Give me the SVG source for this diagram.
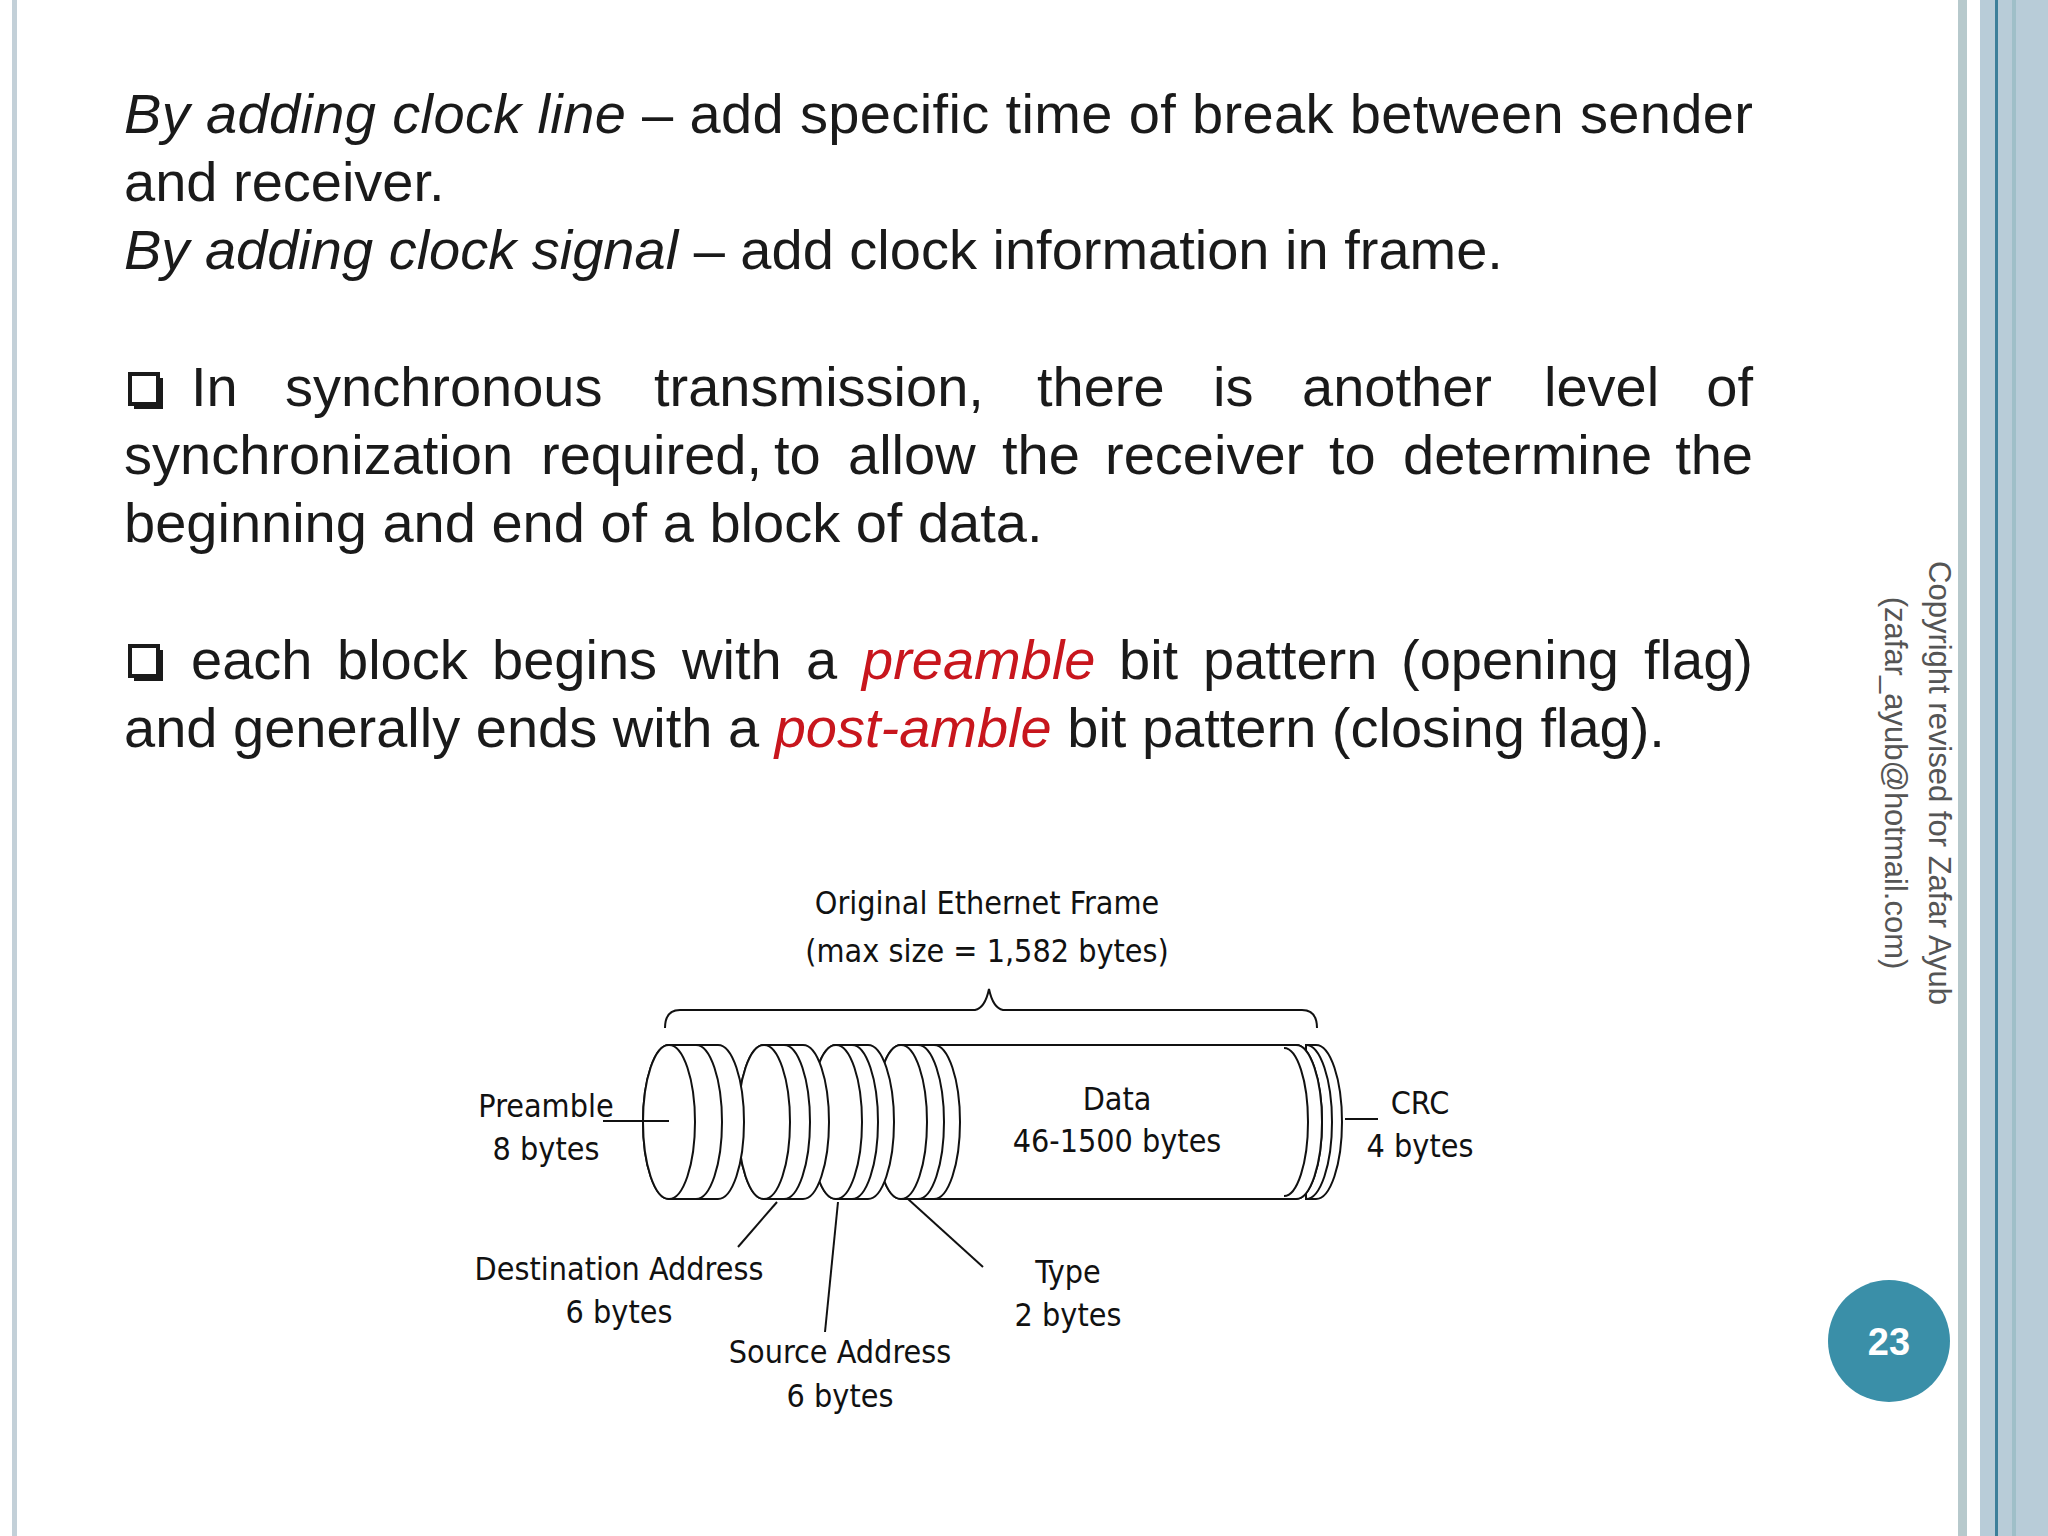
<svg xmlns="http://www.w3.org/2000/svg" width="2048" height="1536" viewBox="0 0 2048 1536">
<style>
.t{font-family:"Liberation Sans",Arial,sans-serif;font-size:56px;fill:#1a1a1a}
.e{text-anchor:end}
.i{font-style:italic}
.r{fill:#c8161d;font-style:italic}
.d{font-family:"DejaVu Sans Condensed","DejaVu Sans",sans-serif;font-size:32px;fill:#111;text-anchor:middle}
.cy{fill:#fff;stroke:#111;stroke-width:2}
.ln{fill:none;stroke:#111;stroke-width:2}
.cp{font-family:"Liberation Sans",Arial,sans-serif;font-size:31px;fill:#555;text-anchor:middle}
.bx{fill:none;stroke:#1a1a1a;stroke-width:4}
</style>
<rect width="2048" height="1536" fill="#fff"/>
<rect x="12" y="0" width="5" height="1536" fill="#c3d0d8"/>
<rect x="1958" y="0" width="9" height="1536" fill="#b7c9cc"/>
<rect x="1980" y="0" width="68" height="1536" fill="#b8ccd8"/>
<rect x="1995" y="0" width="3" height="1536" fill="#3d7f9a"/>
<rect x="2012" y="0" width="4" height="1536" fill="#9fbfc8"/>

<g id="text">
<text class="t" x="124" y="133" textLength="1629" lengthAdjust="spacing"><tspan class="i">By adding clock line</tspan> – add specific time of break between sender</text>
<text class="t" x="124" y="201">and receiver.</text>
<text class="t" x="124" y="269"><tspan class="i">By adding clock signal</tspan> – add clock information in frame.</text>
<rect class="bx" x="130" y="374" width="28" height="30"/>
<path class="bx" d="M161 378 V407 H134"/>
<text class="t" y="406"><tspan x="191">In</tspan><tspan x="285">synchronous</tspan><tspan x="654">transmission,</tspan><tspan x="1037">there</tspan><tspan x="1213">is</tspan><tspan x="1302">another</tspan><tspan x="1544">level</tspan></text>
<text class="t e" x="1753" y="406">of</text>
<text class="t" y="474"><tspan x="124">synchronization</tspan><tspan x="541">required,</tspan><tspan x="774">to</tspan><tspan x="848">allow</tspan><tspan x="1002">the</tspan><tspan x="1105">receiver</tspan><tspan x="1329">to</tspan><tspan x="1403">determine</tspan></text>
<text class="t e" x="1753" y="474">the</text>
<text class="t" x="124" y="542">beginning and end of a block of data.</text>
<rect class="bx" x="130" y="646" width="28" height="30"/>
<path class="bx" d="M161 650 V679 H134"/>
<text class="t" y="679"><tspan x="191">each</tspan><tspan x="337">block</tspan><tspan x="492">begins</tspan><tspan x="682">with</tspan><tspan x="806">a</tspan><tspan x="862" class="r">preamble</tspan><tspan x="1119">bit</tspan><tspan x="1203">pattern</tspan><tspan x="1401">(opening</tspan></text>
<text class="t e" x="1753" y="679">flag)</text>
<text class="t" x="124" y="747">and generally ends with a <tspan class="r">post-amble</tspan> bit pattern (closing flag).</text>
</g>

<g id="copyright">
<text class="cp" transform="translate(1929,783) rotate(90)">Copyright revised for Zafar Ayub</text>
<text class="cp" transform="translate(1885,783) rotate(90)">(zafar_ayub@hotmail.com)</text>
</g>

<g id="page">
<circle cx="1889" cy="1341" r="61" fill="#3a8fa8"/>
<text x="1889" y="1355" font-family="Liberation Sans,Arial,sans-serif" font-size="38" font-weight="bold" fill="#fff" text-anchor="middle">23</text>
</g>

<g id="frame">
<text class="d" x="987" y="914" font-size="37">Original Ethernet Frame</text>
<text class="d" x="987" y="962" font-size="37">(max size = 1,582 bytes)</text>
<path class="ln" d="M665 1028 Q665 1010 680 1010 H975 Q985 1008 989 989 Q993 1008 1003 1010 H1302 Q1317 1010 1317 1028"/>
<path class="cy" d="M1306 1045 H1316 A26 77 0 0 1 1316 1199 H1306 Z"/>
<path class="ln" d="M1306 1045 A26 77 0 0 1 1306 1199"/>
<path class="ln" d="M1296 1045 A26 77 0 0 1 1296 1199"/>
<path class="cy" d="M934 1045 H1296 A26 77 0 0 1 1296 1199 H934 A26 77 0 0 1 934 1045 Z"/>
<path class="ln" d="M1284 1048 A24 74 0 0 1 1284 1196"/>
<path class="cy" d="M901 1045 H934 A26 77 0 0 1 934 1199 H901 A26 77 0 0 1 901 1045 Z"/>
<path class="ln" d="M918 1045 A26 77 0 0 1 918 1199"/>
<ellipse class="cy" cx="901" cy="1122" rx="26" ry="77"/>
<path class="cy" d="M836 1045 H868 A26 77 0 0 1 868 1199 H836 A26 77 0 0 1 836 1045 Z"/>
<path class="ln" d="M852 1045 A26 77 0 0 1 852 1199"/>
<ellipse class="cy" cx="836" cy="1122" rx="26" ry="77"/>
<path class="cy" d="M764 1045 H803 A26 77 0 0 1 803 1199 H764 A26 77 0 0 1 764 1045 Z"/>
<path class="ln" d="M784 1045 A26 77 0 0 1 784 1199"/>
<ellipse class="cy" cx="764" cy="1122" rx="26" ry="77"/>
<path class="cy" d="M669 1045 H718 A26 77 0 0 1 718 1199 H669 A26 77 0 0 1 669 1045 Z"/>
<path class="ln" d="M696 1045 A26 77 0 0 1 696 1199"/>
<ellipse class="cy" cx="669" cy="1122" rx="26" ry="77"/>
</g>

<g id="labels">
<text class="d" x="546" y="1117">Preamble</text>
<text class="d" x="546" y="1160">8 bytes</text>
<text class="d" x="1117" y="1110">Data</text>
<text class="d" x="1117" y="1152">46-1500 bytes</text>
<text class="d" x="1420" y="1114">CRC</text>
<text class="d" x="1420" y="1157">4 bytes</text>
<text class="d" x="619" y="1280">Destination Address</text>
<text class="d" x="619" y="1323">6 bytes</text>
<text class="d" x="840" y="1363">Source Address</text>
<text class="d" x="840" y="1407">6 bytes</text>
<text class="d" x="1068" y="1283">Type</text>
<text class="d" x="1068" y="1326">2 bytes</text>
</g>

<g id="connectors">
<path class="ln" stroke-width="1.5" d="M603 1121 H669"/>
<path class="ln" stroke-width="1.5" d="M1345 1119 H1378"/>
<path class="ln" stroke-width="1.5" d="M738 1247 L777 1202"/>
<path class="ln" stroke-width="1.5" d="M825 1332 L838 1202"/>
<path class="ln" stroke-width="1.5" d="M908 1199 L983 1267"/>
</g>
</svg>
